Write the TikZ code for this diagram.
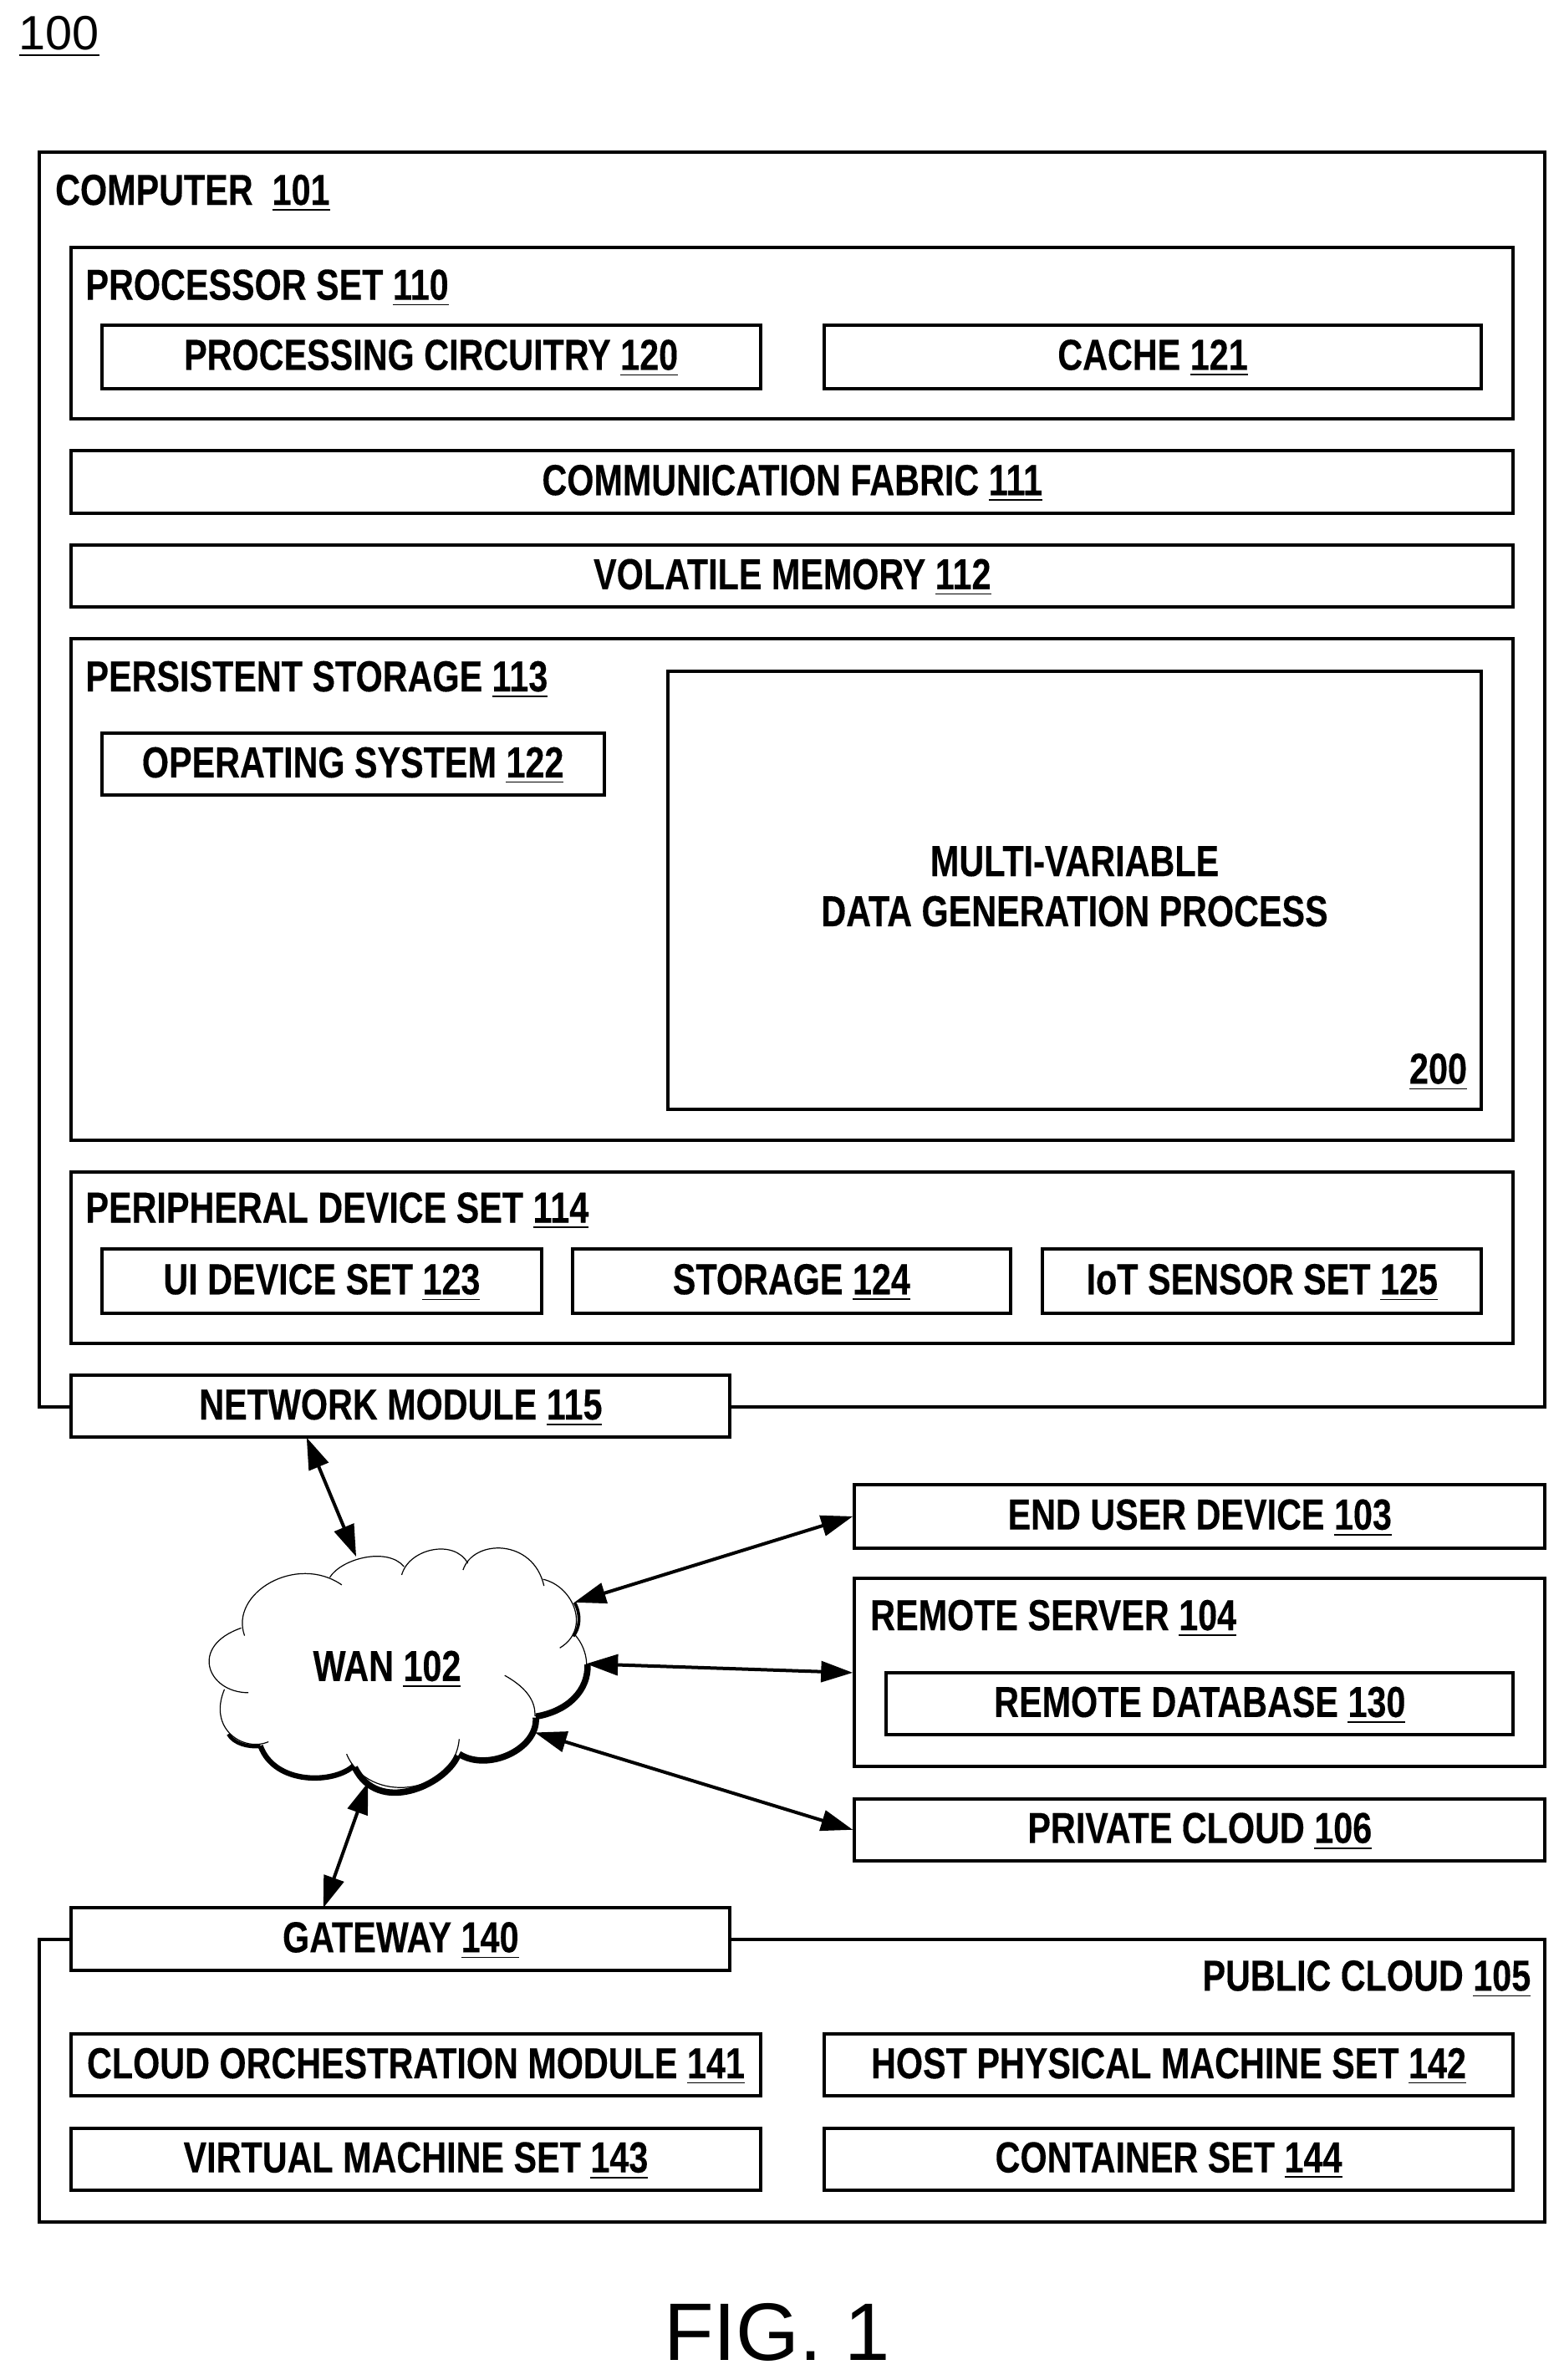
\documentclass[tikz,border=0pt]{standalone}
\usepackage{fontspec}
\setmainfont{Liberation Sans}
\newfontfamily\boxfont[FakeStretch=0.795,FakeBold=0.2]{Liberation Sans}
\usetikzlibrary{positioning,arrows.meta,calc}
\tikzstyle{block} = [draw=black, fill=white, line width=1pt, rectangle, inner sep=0pt,
    font=\boxfont\bfseries\fontsize{13}{15}\selectfont, text height=9.4pt, text depth=1.5pt]
\tikzstyle{title} = [anchor=base west, inner sep=0pt, font=\boxfont\bfseries\fontsize{13}{15}\selectfont]
\tikzstyle{link} = [{Triangle[length=9.5pt,width=6.2pt]}-{Triangle[length=9.5pt,width=6.2pt]}, line width=1pt]
\tikzstyle{thin edge} = [line width=0.3pt]
\tikzstyle{heavy edge} = [line width=1.9pt]
\tikzset{boxsize/.style 2 args={minimum width=#1*0.454pt, minimum height=#2*0.454pt}}
\newcommand{\refnum}[1]{\underline{#1}}

\begin{document}
\begin{tikzpicture}[x=0.454pt, y=-0.454pt]
\useasboundingbox (0,0) rectangle (1030,1568);

\node (figref) [anchor=base west, inner sep=0pt, font=\fontsize{14.4}{16}\selectfont] at (12,33) {\refnum{100}};

% computer
\node (computer) [block, boxsize={992}{827}] at (522,513.5) {};
\node (computerlabel) [title] at (36,135) {COMPUTER\ \ \refnum{101}};

\node (processor) [block, boxsize={950}{113}] at (522,219.5) {};
\node (processorlabel) [title] at (56,197.5) {PROCESSOR SET \refnum{110}};
\node (circuitry) [block, boxsize={434}{42}] at (284,235) {PROCESSING CIRCUITRY \refnum{120}};
\node (cache) [block, boxsize={433}{42}] at (759.5,235) {CACHE \refnum{121}};

\node (fabric) [block, boxsize={950}{41}] at (522,317.5) {COMMUNICATION FABRIC \refnum{111}};
\node (volatile) [block, boxsize={950}{41}] at (522,379.5) {VOLATILE MEMORY \refnum{112}};

\node (persistent) [block, boxsize={950}{330}] at (522,586) {};
\node (persistentlabel) [title] at (56,455.5) {PERSISTENT STORAGE \refnum{113}};
\node (opsystem) [block, boxsize={331}{41}] at (232.5,503.5) {OPERATING SYSTEM \refnum{122}};
\node (process) [block, boxsize={536}{289}] at (708,586.5) {};
\node (processtext) [title, anchor=center, align=center] at (708,584) {MULTI-VARIABLE\\DATA GENERATION PROCESS};
\node (processlabel) [title, anchor=base east] at (967,714) {\refnum{200}};

\node (peripheral) [block, boxsize={950}{113}] at (522,828.5) {};
\node (peripherallabel) [title] at (56,805.5) {PERIPHERAL DEVICE SET \refnum{114}};
\node (uiset) [block, boxsize={290}{42}] at (212,844) {UI DEVICE SET \refnum{123}};
\node (storage) [block, boxsize={289}{42}] at (521.5,844) {STORAGE \refnum{124}};
\node (iotset) [block, boxsize={289}{42}] at (831.5,844) {IoT SENSOR SET \refnum{125}};
\node (network) [block, boxsize={434}{41}] at (264,926.5) {NETWORK MODULE \refnum{115}};

% remote side
\node (enduser) [block, boxsize={455}{42}] at (790.5,999) {END USER DEVICE \refnum{103}};
\node (remote) [block, boxsize={455}{124}] at (790.5,1102) {};
\node (remotelabel) [title] at (573,1074) {REMOTE SERVER \refnum{104}};
\node (database) [block, boxsize={413}{41}] at (790.5,1122.5) {REMOTE DATABASE \refnum{130}};
\node (private) [block, boxsize={455}{41}] at (790.5,1205.5) {PRIVATE CLOUD \refnum{106}};

% public cloud
\node (public) [block, boxsize={992}{186}] at (522,1371) {};
\node (publiclabel) [title, anchor=base east] at (1009,1311.5) {PUBLIC CLOUD \refnum{105}};
\node (gateway) [block, boxsize={434}{41}] at (264,1277.5) {GATEWAY \refnum{140}};
\node (orchestration) [block, boxsize={454}{41}] at (274,1360.5) {CLOUD ORCHESTRATION MODULE \refnum{141}};
\node (hostset) [block, boxsize={454}{41}] at (770,1360.5) {HOST PHYSICAL MACHINE SET \refnum{142}};
\node (vmset) [block, boxsize={454}{41}] at (274,1422.5) {VIRTUAL MACHINE SET \refnum{143}};
\node (containerset) [block, boxsize={454}{41}] at (770,1422.5) {CONTAINER SET \refnum{144}};

% wan cloud
\begin{scope}[shift={(110,936)}, x=0.1433pt, y=-0.0992pt]
\draw [thin edge] (340,472) .. controls (365,415) and (460,380) .. (495,440);
\draw [thin edge] (490,465) .. controls (505,385) and (600,355) .. (628,430);
\draw [thin edge] (618,450) .. controls (640,355) and (765,355) .. (787,498);
\draw [thin edge] (785,478) .. controls (850,500) and (885,630) .. (820,685);
\draw [thin edge] (848,640) .. controls (890,700) and (900,840) .. (768,890);
\draw [thin edge] (705,768) .. controls (745,800) and (770,840) .. (768,890);
\draw [thin edge] (610,960) .. controls (600,1130) and (420,1160) .. (375,1005);
\draw [thin edge] (212,968) .. controls (160,1000) and (85,930) .. (120,810);
\draw [thin edge] (170,820) .. controls (85,820) and (45,680) .. (155,625);
\draw [thin edge] (162,648) .. controls (130,520) and (270,400) .. (365,495);
% heavier lower edge
\draw [line width=0.9pt] (851,548) .. controls (865,585) and (862,625) .. (848,650);
\draw [heavy edge] (878,735) .. controls (880,810) and (840,875) .. (770,892);
\draw [heavy edge] (770,895) .. controls (775,990) and (670,1060) .. (610,1005);
\draw [heavy edge] (607,1010) .. controls (580,1100) and (440,1190) .. (392,1045);
\draw [line width=1.6pt] (390,1040) .. controls (350,1095) and (225,1100) .. (195,980);
\draw [line width=1.1pt] (195,982) .. controls (170,985) and (140,975) .. (128,945);
\coordinate (wantop) at (395,410);
\coordinate (wanupper) at (850,548);
\coordinate (wanright) at (875,733);
\coordinate (wanlower) at (768,940);
\coordinate (wanbottom) at (420,1090);
\end{scope}
\node (wan) [title, anchor=base, inner sep=0pt] at (255,1107.5) {WAN \refnum{102}};

\coordinate (networkport) at (202,947);
\coordinate (gatewayport) at (213,1257);
\draw [link] (networkport) -- (wantop);
\draw [link] (wanupper) -- (enduser.west);
\draw [link] (wanright) -- (remote.west);
\draw [link] (wanlower) -- (private.west);
\draw [link] (wanbottom) -- (gatewayport);

\node (figlabel) [anchor=base, inner sep=0pt, font=\fontsize{24.4}{28}\selectfont] at (512,1555) {FIG. 1};
\end{tikzpicture}
\end{document}
